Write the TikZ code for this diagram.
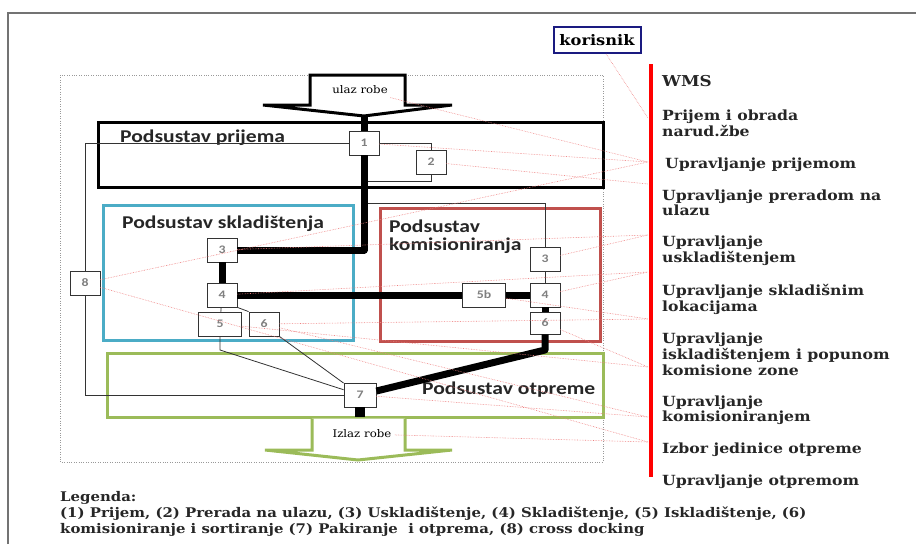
\documentclass[tikz,border=0pt]{standalone}
\usepackage{fontspec}
\setmainfont{DejaVu Serif}[FakeStretch=1.12]
\newfontfamily\boxfont{Carlito}[FakeStretch=1.2]
\definecolor{skladblue}{HTML}{4BACC6}
\definecolor{komired}{HTML}{C0504D}
\definecolor{otpgreen}{HTML}{9BBB59}
\definecolor{kornavy}{HTML}{1A1A80}
\definecolor{wmspink}{HTML}{EE8080}
\begin{document}
\begin{tikzpicture}[x=1pt, y=-1pt,
  numbox/.style={draw=black!80, line width=.8pt, fill=white, minimum width=30pt, minimum height=24pt, inner sep=0pt, font=\boxfont\bfseries\fontsize{11.5}{13}\selectfont, text=black!50},
  flow/.style={line width=7pt, line join=round},
  link/.style={line width=.8pt, black!80},
  wmsl/.style={draw=wmspink, line width=.6pt, densely dotted},
  title/.style={anchor=base west, inner sep=0pt, font=\boxfont\bfseries\fontsize{18}{20}\selectfont, text=black!85},
  wmstext/.style={anchor=west, inner sep=0pt, text height=10pt, text depth=3pt, font=\bfseries\fontsize{14}{16}\selectfont, text=black!85}]
\useasboundingbox (0,0) rectangle (916,544);
\draw[black!55, line width=1.2pt] (8,544) |- (916,13);
\draw[black!40, dotted] (60,75) rectangle (603,462);

\draw[line width=3pt] (98,122) rectangle (603,187);
\draw[skladblue, line width=3pt] (103,205) rectangle (353,340);
\draw[komired, line width=3pt] (380,208) rectangle (600,341);
\draw[otpgreen, line width=3pt] (107,353) rectangle (603,417);
\node[title] (tPrijem) at (120,142) {Podsustav prijema};
\node[title] (tSklad) at (122,228) {Podsustav skladištenja};
\node[title] (tKomis) at (389,232) {Podsustav};
\node[title] (tKomis2) at (389,250) {komisioniranja};
\node[title] (tOtp) at (422,394) {Podsustav otpreme};

\draw[line width=3pt, fill=white, line join=miter] (310,75) -- (405,75) -- (405,105) -- (452,105) -- (364,116) -- (263,105) -- (310,105) -- cycle;
\coordinate (ulazTip) at (364,116);
\node[font=\fontsize{10.5}{12}\selectfont] (ulaz) at (360,90) {ulaz robe};
\draw[otpgreen, line width=3pt, fill=white] (312,418.5) -- (312,450) -- (265,450) -- (358,460) -- (452,450) -- (405,450) -- (405,418.5);
\coordinate (izlazTop) at (360,417);
\node[font=\fontsize{10.5}{12}\selectfont] (izlaz) at (362,434) {Izlaz robe};

\node[numbox] (n1) at (364,143) {1};
\node[numbox] (n2) at (431,162) {2};
\node[numbox] (n3) at (222,250) {3};
\node[numbox] (n4) at (222,295) {4};
\node[numbox, minimum width=43pt] (n5) at (220,324) {5};
\node[numbox] (n6) at (264,324) {6};
\node[numbox] (n8) at (85,283) {8};
\node[numbox, minimum width=32pt] (n7) at (360,395) {7};
\node[numbox, minimum width=43pt] (n5b) at (484,295) {5b};
\node[numbox] (n3b) at (545,259) {3};
\node[numbox] (n4b) at (545,295) {4};
\node[numbox, minimum height=22pt] (n6b) at (545,323) {6};
\coordinate (ret2) at (364,181);
\coordinate (split) at (364,203);
\coordinate (knee5) at (220,350);
\coordinate (knee6) at (545,350);

\draw[link] (n1) -| (n2);
\draw[link] (n2) |- (ret2);
\draw[link] (n1) -| (n8);
\draw[link] (n8) |- (n7);
\draw[link] (split) -| (n3b);
\draw[link] (n3b) -- (n4b);
\draw[link] (n4) -- (n5);
\draw[link] (n4.south east) -- (n6.north west);
\draw[link] (n5) -- (knee5) -- (n7);
\draw[link] (n6.south east) -- (n7);

\draw[flow] (ulazTip) -- (n1);
\draw[flow] (n1) |- (n3);
\draw[flow] (n3) -- (n4);
\draw[flow] (n4) -- (n5b);
\draw[flow] (n5b) -- (n4b);
\draw[flow] (n4b) -- (n6b);
\draw[flow] (n6b) -- (knee6) -- (n7);
\draw[line width=10pt] (n7) -- (izlazTop);

\draw[red, line width=4pt] (651,64) -- (651,477);
\coordinate (wKor) at (648,118);
\coordinate (wPrijem) at (648,162);
\coordinate (wPrerada) at (648,184);
\coordinate (wUskl) at (648,235);
\coordinate (wLok) at (648,272);
\coordinate (wIskl) at (648,319);
\coordinate (wPopun) at (648,367);
\coordinate (wKomis) at (648,417);
\coordinate (wIzbor) at (648,442);
\node[draw=kornavy, line width=2pt, minimum width=87pt, minimum height=26pt, inner sep=0pt, font=\bfseries\fontsize{14.5}{16}\selectfont] (kor) at (597,40) {korisnik};

\draw[wmsl] (kor) -- (wKor);
\draw[wmsl] (ulaz) -- (wPrijem);
\draw[wmsl] (n1) -- (wPrijem);
\draw[wmsl] (n8) -- (wPrijem);
\draw[wmsl] (n2) -- (wPrerada);
\draw[wmsl] (n3) -- (wUskl);
\draw[wmsl] (n3b) -- (wUskl);
\draw[wmsl] (n4) -- (wLok);
\draw[wmsl] (n4b) -- (wLok);
\draw[wmsl] (n5b) -- (wIskl);
\draw[wmsl] (n6) -- (wIskl);
\draw[wmsl] (n6b) -- (wPopun);
\draw[wmsl] (n5) -- (wPopun);
\draw[wmsl] (n6) -- (wKomis);
\draw[wmsl] (n7) -- (wKomis);
\draw[wmsl] (n8) -- (wIzbor);
\draw[wmsl] (izlaz) -- (wIzbor);

\node[wmstext, font=\bfseries\fontsize{15}{17}\selectfont] (wms) at (662,83) {WMS};
\foreach \x/\y/\txt [count=\i] in {662/117/Prijem i obrada, 662/133/narud.žbe, 665/165/Upravljanje prijemom,
  662/197/Upravljanje preradom na, 662/212/ulazu, 662/243/Upravljanje, 662/259/uskladištenjem,
  662/292/Upravljanje skladišnim, 662/308/lokacijama, 662/340/Upravljanje, 662/356/iskladištenjem i popunom,
  662/372/komisione zone, 662/403/Upravljanje, 662/418/komisioniranjem, 662/450/Izbor jedinice otpreme,
  662/482/Upravljanje otpremom}
  \node[wmstext] (wms\i) at (\x,\y) {\txt};

\node[wmstext, font=\bfseries\fontsize{13.3}{15}\selectfont] (leg1) at (60,498) {Legenda:};
\node[wmstext, font=\bfseries\fontsize{13.3}{15}\selectfont] (leg2) at (60,514) {(1) Prijem, (2) Prerada na ulazu, (3) Uskladištenje, (4) Skladištenje, (5) Iskladištenje, (6)};
\node[wmstext, font=\bfseries\fontsize{13.3}{15}\selectfont] (leg3) at (60,530) {komisioniranje i sortiranje (7) Pakiranje \ i otprema, (8) cross docking};
\end{tikzpicture}
\end{document}
